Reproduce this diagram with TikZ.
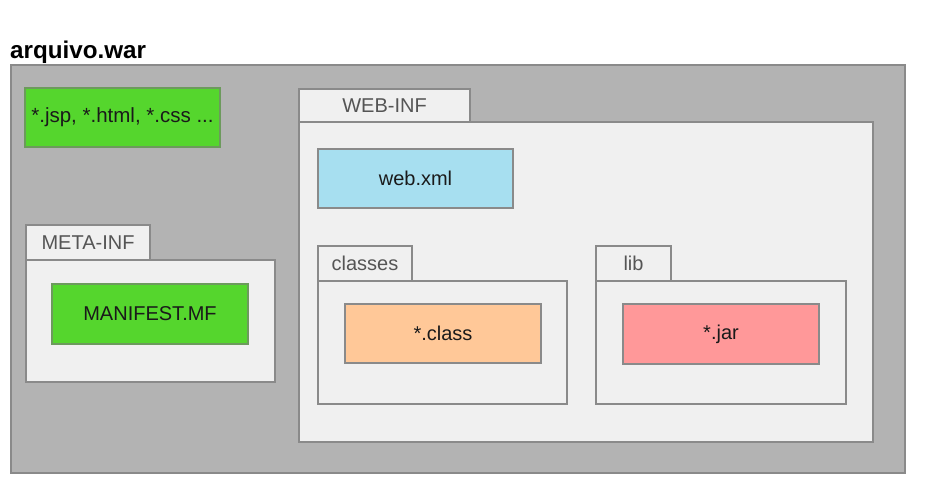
\documentclass[tikz,border=0pt]{standalone}
\usepackage{fontspec}
\setmainfont{Liberation Sans}
\definecolor{outergray}{HTML}{B3B3B3}
\definecolor{edgegray}{HTML}{8A8A8A}
\definecolor{panel}{HTML}{F0F0F0}
\definecolor{greenbox}{HTML}{55D62D}
\definecolor{greenedge}{HTML}{6C9A5C}
\definecolor{bluebox}{HTML}{A7DFF0}
\definecolor{orangebox}{HTML}{FFC898}
\definecolor{pinkbox}{HTML}{FF9899}
\definecolor{labelgray}{HTML}{555555}
\definecolor{textdark}{HTML}{1A1A1A}
\tikzset{
  rbox/.style={draw=edgegray, line width=1.1pt, inner sep=0pt, outer sep=0pt, rectangle},
  filebox/.style={rbox, text=textdark, font=\fontsize{20}{23}\selectfont},
  tabbox/.style={rbox, fill=panel, text=labelgray, font=\fontsize{20}{23}\selectfont},
  panelbox/.style={rbox, fill=panel}
}
\begin{document}
\begin{tikzpicture}[x=1pt,y=-1pt]
\useasboundingbox (0,0) rectangle (935,499);
\fill[white] (0,0) rectangle (935,499);
\node[anchor=base west, inner sep=0pt, font=\bfseries\fontsize{24.2}{27}\selectfont, text=black] (title) at (10,58) {arquivo.war};
\node[rbox, fill=outergray, minimum width=894pt, minimum height=408pt] (war) at (458,269) {};
\node[filebox, fill=greenbox, draw=greenedge, minimum width=195pt, minimum height=59pt, font=\fontsize{20.5}{23}\selectfont] (web) at (122.5,117.5) {*.jsp, *.html, *.css ...};
% WEB-INF
\node[panelbox, minimum width=574pt, minimum height=320pt] (webinf) at (586,282) {};
\node[tabbox, minimum width=171pt, minimum height=33pt] (webinftab) at (384.5,105.5) {WEB-INF};
\node[filebox, fill=bluebox, minimum width=195pt, minimum height=59pt] (webxml) at (415.5,178.5) {web.xml};
% classes
\node[panelbox, minimum width=249pt, minimum height=123pt] (classes) at (442.5,342.5) {};
\node[tabbox, minimum width=94pt, minimum height=35pt] (classestab) at (365,263.5) {classes};
\node[filebox, fill=orangebox, minimum width=196pt, minimum height=59pt] (class) at (443,333.5) {*.class};
% lib
\node[panelbox, minimum width=250pt, minimum height=123pt] (lib) at (721,342.5) {};
\node[tabbox, minimum width=75pt, minimum height=35pt] (libtab) at (633.5,263.5) {lib};
\node[filebox, fill=pinkbox, minimum width=196pt, minimum height=60pt] (jar) at (721,334) {*.jar};
% META-INF
\node[panelbox, minimum width=249pt, minimum height=122pt] (metainf) at (150.5,321) {};
\node[tabbox, minimum width=124pt, minimum height=35pt] (metatab) at (88,242.5) {META-INF};
\node[filebox, fill=greenbox, draw=greenedge, minimum width=196pt, minimum height=60pt] (manifest) at (150,314) {MANIFEST.MF};
\end{tikzpicture}
\end{document}
